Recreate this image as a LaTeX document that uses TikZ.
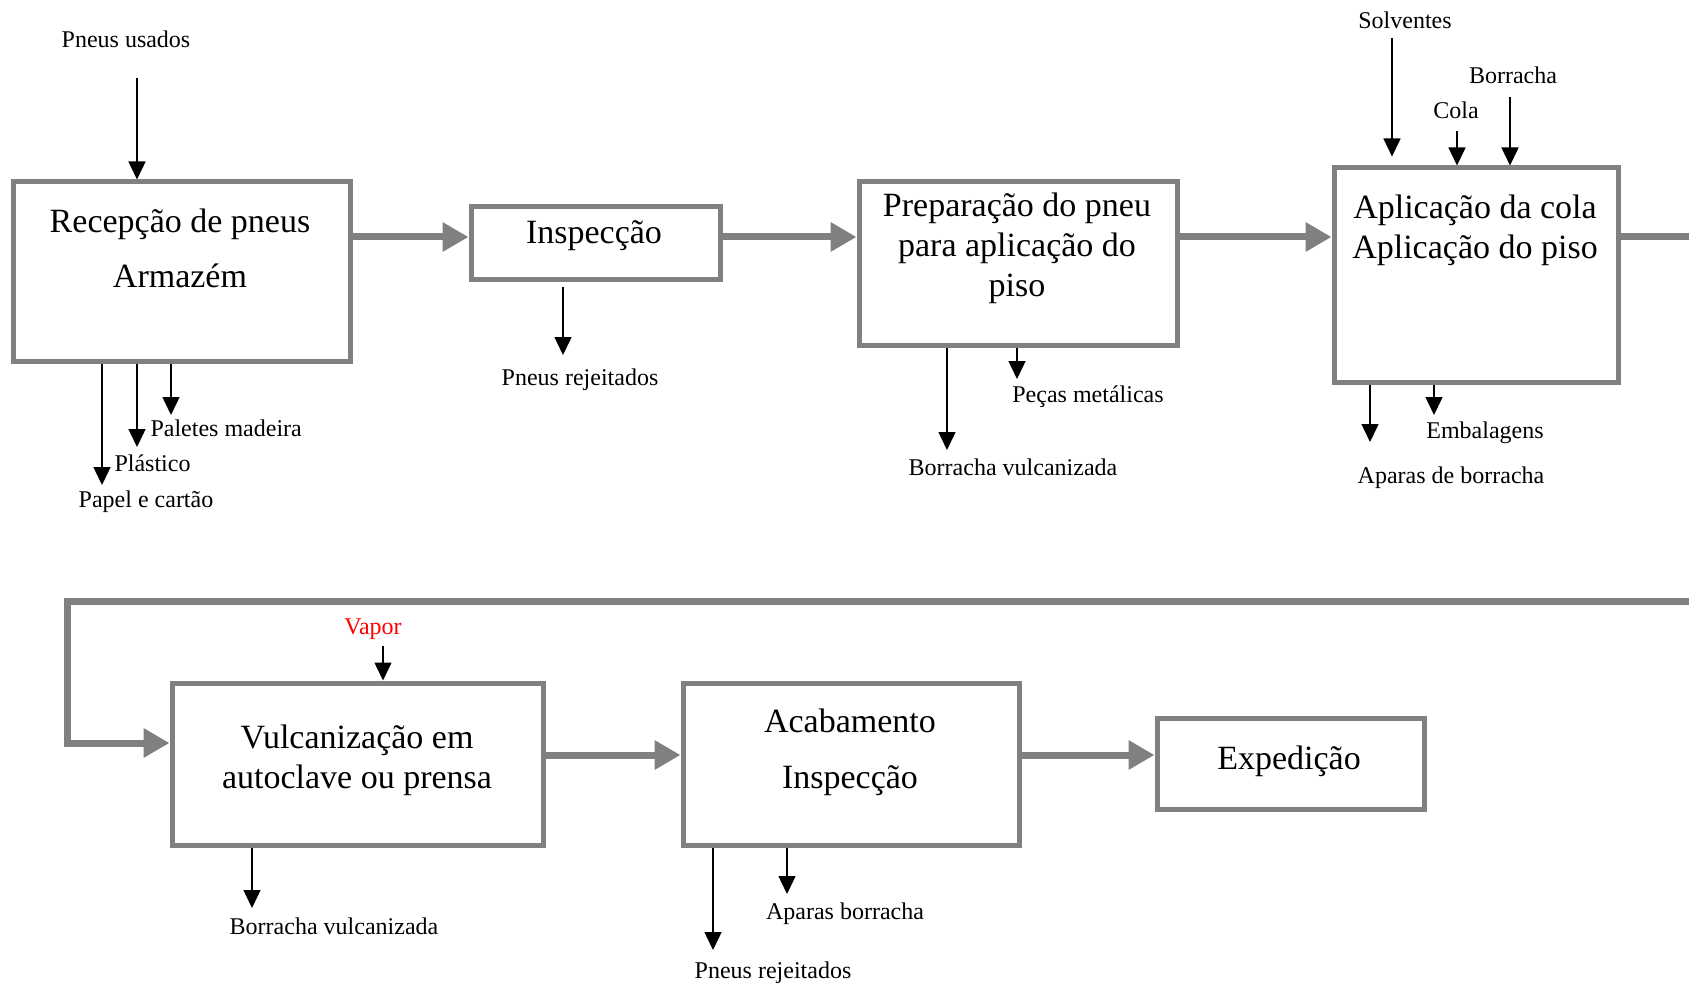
\documentclass[tikz,border=0pt]{standalone}
\usepackage{fontspec}
\setmainfont{Liberation Serif}
\usetikzlibrary{arrows.meta}
\definecolor{boxgray}{HTML}{808080}

\begin{document}
\begin{tikzpicture}[x=1pt,y=-1pt,>={Triangle[length=18pt,width=17pt]},
    proc node/.style={draw=boxgray,line width=5pt,inner sep=0pt},
    proc text/.style={align=center,font=\fontsize{34}{40}\selectfont},
    small text/.style={font=\fontsize{24}{28}\selectfont},
    flow/.style={draw=boxgray,line width=7pt,-{Triangle[length=26pt,width=28pt]}},
    stream/.style={->,line width=1.5pt}]
    \useasboundingbox (0,0) rectangle (1689,984);
    \clip (0,0) rectangle (1689,984);

    % process boxes
    \node[proc node,minimum width=337pt,minimum height=179pt] (rec) at (181.5,271.5) {};
    \node[proc node,minimum width=249pt,minimum height=73pt] (insp) at (595.5,243.5) {};
    \node[proc node,minimum width=318pt,minimum height=163pt] (prep) at (1018,263.5) {};
    \node[proc node,minimum width=284pt,minimum height=214pt] (apl) at (1476,275) {};
    \node[proc node,minimum width=371pt,minimum height=162pt] (vulc) at (357.5,764) {};
    \node[proc node,minimum width=336pt,minimum height=162pt] (acab) at (851,764) {};
    \node[proc node,minimum width=267pt,minimum height=91pt] (exped) at (1290.5,763.5) {};

    \node[proc text] (rect) at (180,248) {Recepção de pneus\\[15pt]Armazém};
    \node[proc text] (inspt) at (594,235.5) {Inspecção};
    \node[proc text] (prept) at (1017,248.5) {Preparação do pneu\\para aplicação do\\piso};
    \node[proc text] (aplt) at (1475,230.5) {Aplicação da cola\\Aplicação do piso};
    \node[proc text] (vulct) at (357,760.5) {Vulcanização em\\autoclave ou prensa};
    \node[proc text] (acabt) at (850,752.5) {Acabamento\\[16pt]Inspecção};
    \node[proc text] (expedt) at (1289,761) {Expedição};

    % main flow
    \coordinate (row1) at (0,237);
    \coordinate (row2) at (0,755);
    \coordinate (lp1) at (1712,237);
    \coordinate (lp2) at (1712,601);
    \coordinate (lp3) at (67,601);
    \coordinate (lp4) at (67,743);
    \draw[flow] (rec.east |- row1) -- (insp.west |- row1);
    \draw[flow] (insp.east |- row1) -- (prep.west |- row1);
    \draw[flow] (prep.east |- row1) -- (apl.west |- row1);
    \draw[flow] (apl.east |- row1) -- (lp1) -- (lp2) -- (lp3) -- (lp4) -- (vulc.west |- lp4);
    \draw[flow] (vulc.east |- row2) -- (acab.west |- row2);
    \draw[flow] (acab.east |- row2) -- (exped.west |- row2);

    % inputs
    \node[small text] (usados) at (126,39) {Pneus usados};
    \node[small text] (solv) at (1405,20.5) {Solventes};
    \node[small text] (cola) at (1456,110) {Cola};
    \node[small text] (borr) at (1513,75) {Borracha};
    \node[small text,text=red] (vapor) at (373,629.5) {Vapor};
    \coordinate (in1) at (137,78);
    \coordinate (in2) at (1392,38);
    \coordinate (in3) at (1457,131);
    \coordinate (in4) at (1510,97);
    \coordinate (in5) at (383,646);
    \draw[stream] (in1) -- (in1 |- rec.north);
    \draw[stream,shorten >=9pt] (in2) -- (in2 |- apl.north);
    \draw[stream] (in3) -- (in3 |- apl.north);
    \draw[stream] (in4) -- (in4 |- apl.north);
    \draw[stream] (in5) -- (in5 |- vulc.north);

    % outputs
    \node[small text,anchor=west] (palet) at (147,428) {Paletes madeira};
    \node[small text,anchor=west] (plast) at (111,463) {Plástico};
    \node[small text] (papel) at (146,502) {Papel e cartão};
    \node[small text] (rej1) at (580,380) {Pneus rejeitados};
    \node[small text] (vulc1) at (1013,467) {Borracha vulcanizada};
    \node[small text] (pecas) at (1088,397) {Peças metálicas};
    \node[small text] (embal) at (1485,433) {Embalagens};
    \node[small text] (apar1) at (1451,478) {Aparas de borracha};
    \node[small text] (vulc2) at (334,926) {Borracha vulcanizada};
    \node[small text] (apar2) at (845,914) {Aparas borracha};
    \node[small text] (rej2) at (773,973) {Pneus rejeitados};
    \coordinate (out1) at (102,485);
    \coordinate (out2) at (137,447);
    \coordinate (out3) at (171,415);
    \coordinate (out4) at (563,355);
    \coordinate (out5) at (947,450);
    \coordinate (out6) at (1017,379);
    \coordinate (out7) at (1370,442);
    \coordinate (out8) at (1434,415);
    \coordinate (out9) at (252,908);
    \coordinate (out10) at (713,950);
    \coordinate (out11) at (787,894);
    \draw[stream] (rec.south -| out1) -- (out1);
    \draw[stream] (rec.south -| out2) -- (out2);
    \draw[stream] (rec.south -| out3) -- (out3);
    \draw[stream,shorten <=5pt] (insp.south -| out4) -- (out4);
    \draw[stream] (prep.south -| out5) -- (out5);
    \draw[stream] (prep.south -| out6) -- (out6);
    \draw[stream] (apl.south -| out7) -- (out7);
    \draw[stream] (apl.south -| out8) -- (out8);
    \draw[stream] (vulc.south -| out9) -- (out9);
    \draw[stream] (acab.south -| out10) -- (out10);
    \draw[stream] (acab.south -| out11) -- (out11);
\end{tikzpicture}
\end{document}
